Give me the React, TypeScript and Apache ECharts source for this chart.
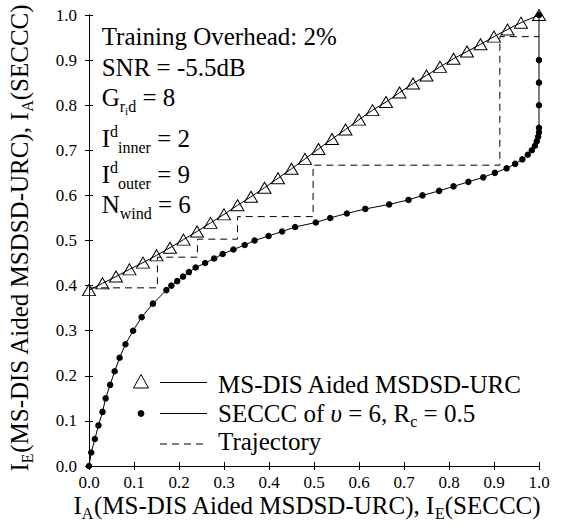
import React, { useEffect, useRef } from 'react';
import * as echarts from 'echarts';

const FONT = 'Liberation Serif';

// MS-DIS Aided MSDSD-URC EXIT curve (triangles): x = I_A, y = I_E
const msdisX = [0, 0.03, 0.06, 0.09, 0.12, 0.15, 0.18, 0.21, 0.24, 0.27, 0.30, 0.33, 0.36, 0.39, 0.42, 0.45, 0.48, 0.51, 0.54, 0.57, 0.60, 0.63, 0.66, 0.69, 0.72, 0.75, 0.78, 0.81, 0.84, 0.87, 0.90, 0.93, 0.96, 1.0];
const msdisY = [0.39, 0.405, 0.42, 0.436, 0.451, 0.467, 0.484, 0.502, 0.52, 0.539, 0.558, 0.578, 0.597, 0.617, 0.638, 0.659, 0.681, 0.703, 0.725, 0.746, 0.768, 0.789, 0.807, 0.828, 0.848, 0.866, 0.885, 0.903, 0.919, 0.935, 0.952, 0.968, 0.983, 1.0];

// SECCC EXIT curve (dots): x = I_E(SECCC), y = I_A(SECCC)
const secccX = [0, 0.005, 0.013, 0.021, 0.03, 0.037, 0.047, 0.057, 0.068, 0.081, 0.098, 0.117, 0.142, 0.172, 0.183, 0.196, 0.209, 0.222, 0.237, 0.258, 0.278, 0.297, 0.321, 0.346, 0.368, 0.399, 0.429, 0.458, 0.504, 0.536, 0.573, 0.614, 0.667, 0.71, 0.741, 0.778, 0.81, 0.843, 0.876, 0.902, 0.928, 0.947, 0.963, 0.975, 0.984, 0.991, 0.995, 0.998, 1.0, 1.0, 1.0, 1.0, 1.0, 1.0];
const secccY = [0, 0.03, 0.06, 0.09, 0.12, 0.15, 0.18, 0.21, 0.24, 0.27, 0.30, 0.33, 0.36, 0.39, 0.40, 0.41, 0.42, 0.43, 0.44, 0.45, 0.46, 0.47, 0.48, 0.49, 0.50, 0.51, 0.52, 0.53, 0.54, 0.55, 0.56, 0.57, 0.58, 0.59, 0.60, 0.61, 0.62, 0.63, 0.64, 0.65, 0.66, 0.67, 0.68, 0.69, 0.70, 0.71, 0.72, 0.73, 0.74, 0.75, 0.80, 0.85, 0.90, 1.0];

// Decoding trajectory (dashed staircase)
const trajX = [0, 0.152, 0.152, 0.241, 0.241, 0.33, 0.33, 0.498, 0.498, 0.913, 0.913, 1.0];
const trajY = [0.395, 0.395, 0.463, 0.463, 0.503, 0.503, 0.553, 0.553, 0.667, 0.667, 0.952, 0.952];

const annotationLines = [
  '{m|Training Overhead: 2%}',
  '{m|SNR = -5.5dB}',
  '{m|G}{sub|r}{ss|i}{sub|d}{m| = 8}',
  '{m|I}{sup|d}{sub|inner}{m| = 2}',
  '{m|I}{sup|d}{sub|outer}{m| = 9}',
  '{m|N}{sub|wind}{m| = 6}',
];
const annotationCenters = [36.6, 67.6, 97.6, 138.6, 174.6, 204.6];

const legendTexts = [
  '{m|MS-DIS Aided MSDSD-URC}',
  '{m|SECCC of }{it|\u03c5}{m| = 6, R}{sub|c}{m| = 0.5}',
  '{m|Trajectory}',
];

const xTitle = '{m|I}{sub|A}{m|(MS-DIS Aided MSDSD-URC), I}{sub|E}{m|(SECCC)}';
const yTitle = '{m|I}{sub|E}{m|(MS-DIS Aided MSDSD-URC), I}{sub|A}{m|(SECCC)}';

const rich = {
  m: { fontSize: 25, fontFamily: FONT, lineHeight: 20, fill: '#000' },
  it: { fontSize: 25, fontFamily: FONT, fontStyle: 'italic', lineHeight: 20, fill: '#000' },
  sub: { fontSize: 16, fontFamily: FONT, lineHeight: 1, padding: [17, 0, 0, 0], fill: '#000' },
  sup: { fontSize: 16, fontFamily: FONT, lineHeight: 1, padding: [0, 0, 14.5, 0], fill: '#000' },
  ss: { fontSize: 11, fontFamily: FONT, lineHeight: 1, padding: [27, 0, 0, 0], fill: '#000' },
};

function richText(x: number, y: number, text: string, extra: any = {}) {
  return {
    type: 'text',
    x,
    y,
    ...extra,
    style: { text, rich, align: extra.align || 'left', verticalAlign: 'middle', fill: '#000', fontFamily: FONT, fontSize: 25 },
  };
}

const fmt = (v: number) => v.toFixed(1);

export default function App() {
  const ref = useRef<HTMLDivElement>(null);
  useEffect(() => {
    document.body.style.margin = '0';
    const chart = echarts.init(ref.current!, undefined, { renderer: 'svg' });
    const axisCommon = {
      type: 'value',
      min: 0,
      max: 1,
      interval: 0.1,
      splitLine: { show: false },
      axisLine: { show: true, lineStyle: { color: '#000', width: 1 } },
      axisTick: { show: true, inside: true, length: 4, lineStyle: { color: '#000', width: 1 } },
    };
    const graphic: any[] = [];
    annotationLines.forEach((t, i) => graphic.push(richText(101.7, annotationCenters[i], t)));
    // legend
    graphic.push({
      type: 'polygon',
      shape: { points: [[133.5, 388], [148.5, 388], [141, 374.5]] },
      style: { fill: 'none', stroke: '#000', lineWidth: 1 },
    });
    graphic.push({ type: 'line', shape: { x1: 160, y1: 382.5, x2: 207, y2: 382.5 }, style: { stroke: '#000', lineWidth: 1 } });
    graphic.push(richText(218, 384.3, legendTexts[0]));
    graphic.push({ type: 'circle', shape: { cx: 141, cy: 413.5, r: 3.4 }, style: { fill: '#000' } });
    graphic.push({ type: 'line', shape: { x1: 160, y1: 413.5, x2: 207, y2: 413.5 }, style: { stroke: '#000', lineWidth: 1 } });
    graphic.push(richText(218, 413.3, legendTexts[1]));
    graphic.push({ type: 'line', shape: { x1: 160, y1: 444, x2: 207, y2: 444 }, style: { stroke: '#000', lineWidth: 1, lineDash: [7, 5] } });
    graphic.push(richText(218, 441.6, legendTexts[2]));
    // axis titles
    graphic.push(richText(307, 505, xTitle, { align: 'center' }));
    graphic.push(richText(19, 238, yTitle, { align: 'center', rotation: Math.PI / 2 }));

    chart.setOption({
      animation: false,
      backgroundColor: '#fff',
      grid: { left: 89, top: 15, width: 450, height: 451, containLabel: false },
      xAxis: [
        {
          ...axisCommon,
          position: 'bottom',
          axisLabel: { show: true, margin: 10, lineHeight: 12, fontFamily: FONT, fontSize: 17, color: '#000', formatter: fmt },
        },
        { ...axisCommon, position: 'top', axisLabel: { show: false } },
      ],
      yAxis: [
        {
          ...axisCommon,
          position: 'left',
          axisLabel: { show: true, margin: 12, fontFamily: FONT, fontSize: 17, color: '#000', formatter: fmt },
        },
        { ...axisCommon, position: 'right', axisLabel: { show: false } },
      ],
      series: [
        {
          type: 'line',
          name: 'Trajectory',
          data: trajX.map((x, i) => [x, trajY[i]]),
          symbol: 'none',
          clip: false,
          lineStyle: { color: '#000', width: 1, type: [7, 5] },
          z: 1,
        },
        {
          type: 'line',
          name: 'SECCC',
          data: secccX.map((x, i) => [x, secccY[i]]),
          symbol: 'circle',
          symbolSize: 6.5,
          clip: false,
          itemStyle: { color: '#000' },
          lineStyle: { color: '#000', width: 1 },
          z: 2,
        },
        {
          type: 'line',
          name: 'MS-DIS Aided MSDSD-URC',
          data: msdisX.map((x, i) => [x, msdisY[i]]),
          symbol: 'triangle',
          symbolSize: [13, 11],
          clip: false,
          itemStyle: { color: 'rgba(0,0,0,0)', borderColor: '#000', borderWidth: 1 },
          lineStyle: { color: '#000', width: 1 },
          z: 3,
        },
      ],
      graphic,
    });
    return () => chart.dispose();
  }, []);
  return <div ref={ref} style={{ width: 566, height: 531 }} />;
}
